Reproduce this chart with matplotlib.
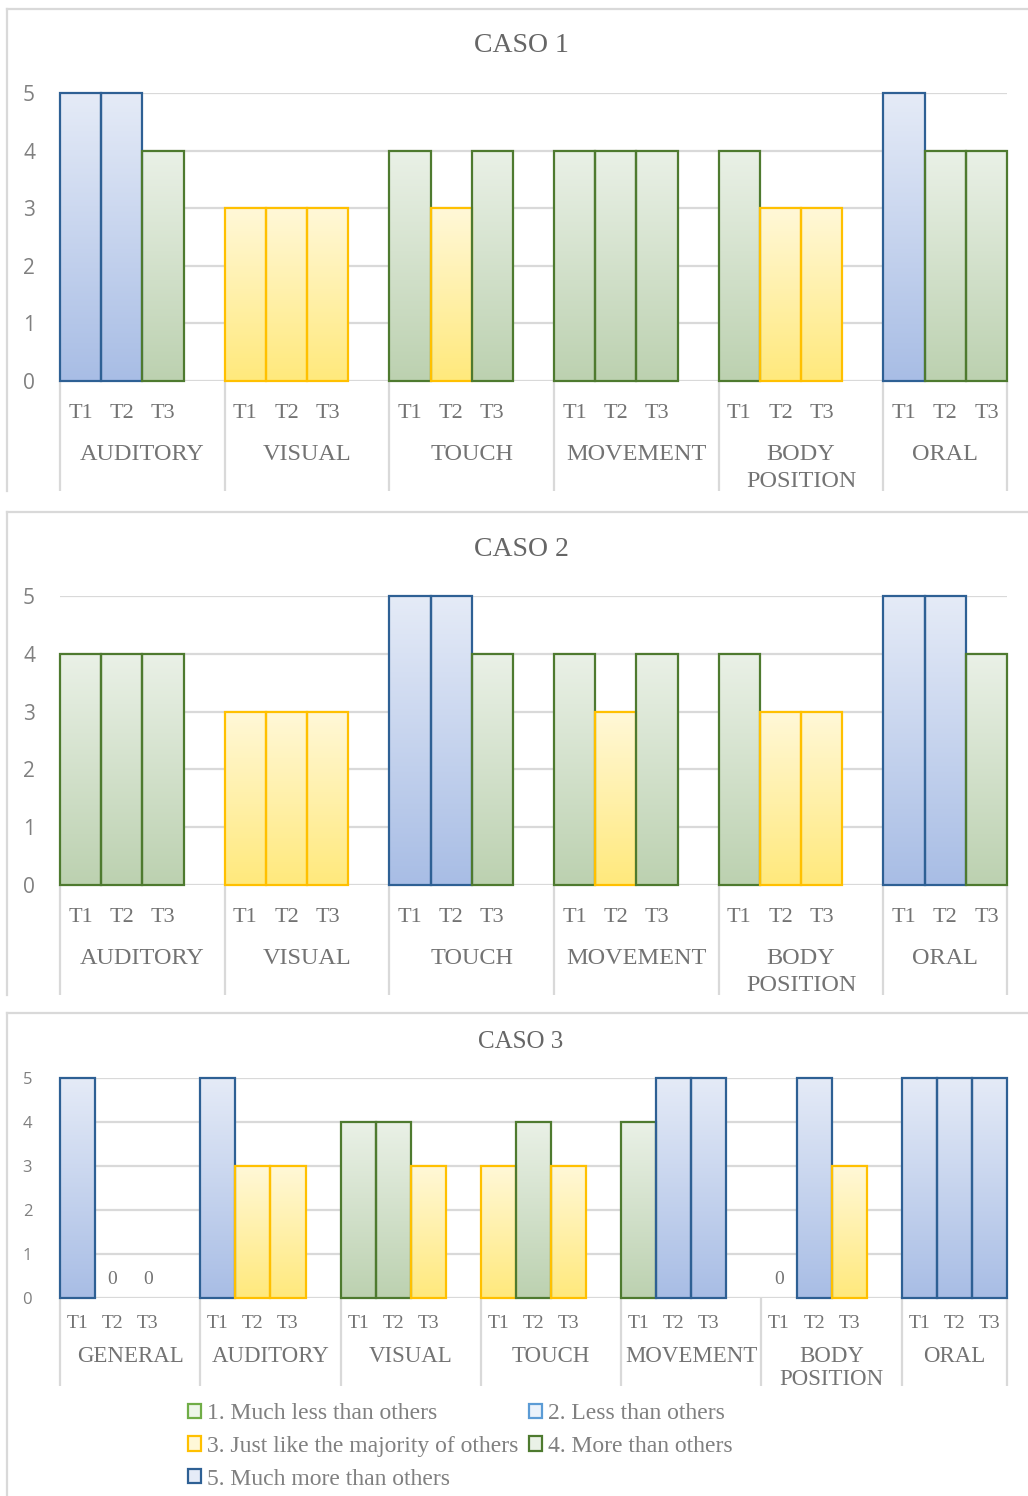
import numpy as np
import matplotlib
matplotlib.use("Agg")
import matplotlib.pyplot as plt
from matplotlib.patches import Patch
from matplotlib.lines import Line2D
from matplotlib.colors import LinearSegmentedColormap

W, H, DPI = 1028, 1496, 100

times = ["T1", "T2", "T3"]

caso1_categories = ["AUDITORY", "VISUAL", "TOUCH", "MOVEMENT", "BODY\nPOSITION", "ORAL"]
caso1_t1 = [5, 3, 4, 4, 4, 5]
caso1_t2 = [5, 3, 3, 4, 3, 4]
caso1_t3 = [4, 3, 4, 4, 3, 4]

caso2_categories = ["AUDITORY", "VISUAL", "TOUCH", "MOVEMENT", "BODY\nPOSITION", "ORAL"]
caso2_t1 = [4, 3, 5, 4, 4, 5]
caso2_t2 = [4, 3, 5, 3, 3, 5]
caso2_t3 = [4, 3, 4, 4, 3, 4]

caso3_categories = ["GENERAL", "AUDITORY", "VISUAL", "TOUCH", "MOVEMENT", "BODY\nPOSITION", "ORAL"]
caso3_t1 = [5, 5, 4, 3, 4, 0, 5]
caso3_t2 = [0, 3, 4, 4, 5, 5, 5]
caso3_t3 = [0, 3, 3, 3, 5, 3, 5]

scale_labels = [
    "1. Much less than others",
    "2. Less than others",
    "3. Just like the majority of others",
    "4. More than others",
    "5. Much more than others",
]

# level -> (edge colour, gradient top, gradient bottom)
LEVEL_STYLE = {
    1: ("#70AD47", "#EEF6EA", "#CFE6C2"),
    2: ("#5B9BD5", "#EAF2FB", "#BDD7EE"),
    3: ("#FFC000", "#FFF8D8", "#FFE97C"),
    4: ("#4E7A2F", "#EAF1E7", "#BCD1B0"),
    5: ("#2E6094", "#E5EBF7", "#A8BDE5"),
}

SERIF = "Liberation Serif"
SANS = "Open Sans"
GRID = "#D9D9D9"
TXT = "#737373"

fig = plt.figure(figsize=(W / DPI, H / DPI), dpi=DPI)
fig.patch.set_facecolor("white")


def fx(x):
    return x / W


def fy(y):
    return 1 - y / H


def draw_panel(title, cats, t1, t2, t3, lay):
    y0, y5 = lay["y0"], lay["y5"]
    hpx = y0 - y5
    ax = fig.add_axes([fx(60), fy(y0), 947 / W, hpx / H])
    n = len(cats)
    xmax = 4 * (n - 1) + 3
    values = np.column_stack([t1, t2, t3])

    # gradient fills, one per bar
    for i in range(n):
        for j in range(3):
            v = int(values[i, j])
            if v > 0:
                _, top, bottom = LEVEL_STYLE[v]
                cmap = LinearSegmentedColormap.from_list("g", [top, bottom])
                grad = np.linspace(0, 1, 256)[:, None]
                ax.imshow(grad, extent=(4 * i + j, 4 * i + j + 1, 0, v), cmap=cmap,
                          aspect="auto", origin="upper", zorder=1, interpolation="bilinear")

    # bar outlines
    for j, series in enumerate([t1, t2, t3]):
        xs = [4 * i + j for i in range(n)]
        edges = [LEVEL_STYLE[v][0] if v > 0 else "none" for v in series]
        ax.bar(xs, series, width=1, align="edge", facecolor="none", edgecolor=edges,
               linewidth=1.6, zorder=3, clip_on=False)
        for x, v in zip(xs, series):
            if v == 0:
                ax.annotate("0", (x + 0.5, 0), xytext=(0, lay["zero_off"]),
                            textcoords="offset points", ha="center", va="center",
                            fontsize=lay["zero_fs"], family=SERIF, color=TXT)

    ax.set_xlim(0, xmax)
    ax.set_ylim(0, 5)
    ax.set_yticks(range(6))
    ax.set_xticks([])
    ax.yaxis.grid(True, color=GRID, linewidth=1.6, zorder=0)
    ax.set_axisbelow(True)
    for s in ax.spines.values():
        s.set_visible(False)
    ax.tick_params(axis="y", length=0, pad=lay["ypad"], labelsize=lay["yfs"],
                   labelcolor="#808080")
    for lab in ax.get_yticklabels():
        lab.set_family(SANS)

    # category separators below the axis
    seps = [4 * i for i in range(n)] + [xmax]
    sep_frac = (lay["sep_bottom"] - y0) / hpx
    ax.vlines(seps, -sep_frac, 0, transform=ax.get_xaxis_transform(), colors=GRID,
              linewidth=1.6, clip_on=False, zorder=0)

    # time labels and category labels
    tfrac = -(lay["tick_y"] - y0) / hpx
    cfrac = -(lay["cat_y"] - y0) / hpx
    for i in range(n):
        for j in range(3):
            ax.text(4 * i + j + 0.5, tfrac, times[j], transform=ax.get_xaxis_transform(),
                    ha="center", va="center", fontsize=lay["tfs"], family=SERIF, color=TXT)
        cx = (seps[i] + seps[i + 1]) / 2
        ax.text(cx, cfrac, cats[i], transform=ax.get_xaxis_transform(), ha="center",
                va="top", fontsize=lay["cfs"], family=SERIF, color=TXT,
                linespacing=lay["cls"])

    # title
    fig.text(fx(521), fy(lay["title_y"]), title, ha="center", va="center",
             fontsize=lay["title_fs"], family=SERIF, color="#666666")

    # panel frame (top and left edges)
    fig.add_artist(Line2D([fx(7), 1.0], [fy(lay["frame_top"])] * 2,
                          transform=fig.transFigure, color=GRID, linewidth=1.6))
    fig.add_artist(Line2D([fx(7), fx(7)], [fy(lay["frame_top"]), fy(lay["frame_bottom"])],
                          transform=fig.transFigure, color=GRID, linewidth=1.6))
    return ax


lay1 = dict(y0=381, y5=93, tick_y=413, cat_y=444, cls=1.38, sep_bottom=491,
            title_y=46, frame_top=9, frame_bottom=491, tfs=16, cfs=17.5, yfs=15,
            ypad=18, title_fs=20, zero_off=14, zero_fs=14)
lay2 = dict(y0=885, y5=596, tick_y=917, cat_y=948, cls=1.38, sep_bottom=995,
            title_y=549, frame_top=512, frame_bottom=995, tfs=16, cfs=17.5, yfs=15,
            ypad=18, title_fs=20, zero_off=14, zero_fs=14)
lay3 = dict(y0=1298, y5=1078, tick_y=1323, cat_y=1346, cls=1.12, sep_bottom=1386,
            title_y=1042, frame_top=1013, frame_bottom=1496, tfs=14, cfs=16.5, yfs=12,
            ypad=20, title_fs=18, zero_off=13, zero_fs=14)

draw_panel("CASO 1", caso1_categories, caso1_t1, caso1_t2, caso1_t3, lay1)
draw_panel("CASO 2", caso2_categories, caso2_t1, caso2_t2, caso2_t3, lay2)
draw_panel("CASO 3", caso3_categories, caso3_t1, caso3_t2, caso3_t3, lay3)

# legend, laid out row by row: 1 2 / 3 4 / 5
handles = []
for lvl in range(1, 6):
    edge, top, bottom = LEVEL_STYLE[lvl]
    handles.append(Patch(facecolor=top, edgecolor=edge, linewidth=1.6))
order = [0, 2, 4, 1, 3]
fig.legend([handles[k] for k in order], [scale_labels[k] for k in order],
           loc="upper left", bbox_to_anchor=(fx(188), fy(1403)), ncol=2, frameon=False,
           prop={"family": SERIF, "size": 17}, labelcolor="#808080",
           handlelength=0.55, handleheight=0.55, handletextpad=0.25,
           columnspacing=0.45, labelspacing=0.5, borderpad=0, borderaxespad=0)

fig.savefig("out.png", dpi=DPI, facecolor="white")
